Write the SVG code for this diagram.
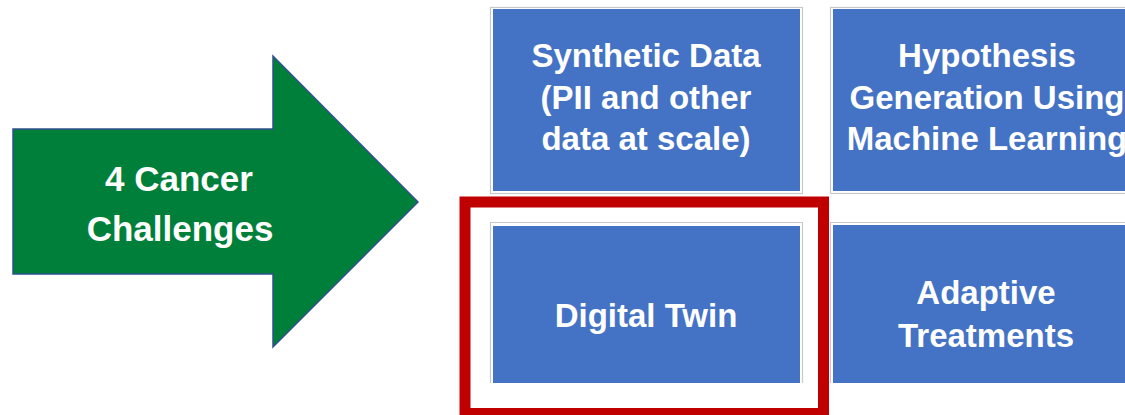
<svg xmlns="http://www.w3.org/2000/svg" width="1125" height="415" viewBox="0 0 1125 415">
<style>
.frame{fill:none;stroke:#C8C8C8;stroke-width:1.2}
.box{fill:#4472C4}
.t{font-family:"Liberation Sans",Arial,sans-serif;font-weight:bold;fill:#FFFFFF;text-anchor:middle;font-size:33px}
.big{font-size:35px}
</style>
<rect width="1125" height="415" fill="#FFFFFF"/>
<g id="arrow">
<path d="M13,129 L273,129 L273,56 L418,202 L273,347 L273,274 L13,274 Z" fill="#007F3A" stroke="#2F528F" stroke-width="1.5"/>
<text class="t big" x="179" y="191">4 Cancer</text>
<text class="t big" x="180" y="241">Challenges</text>
</g>
<g id="box-synthetic">
<rect class="frame" x="490.5" y="7.5" width="312" height="186"/>
<rect class="box" x="493" y="9" width="307" height="182"/>
<text class="t" x="646" y="67">Synthetic Data</text>
<text class="t" x="646" y="109">(PII and other</text>
<text class="t" x="646" y="150">data at scale)</text>
</g>
<g id="box-hypothesis">
<rect class="frame" x="830.5" y="7.5" width="312" height="186"/>
<rect class="box" x="833" y="9" width="308" height="182"/>
<text class="t" x="987" y="67">Hypothesis</text>
<text class="t" x="987" y="109">Generation Using</text>
<text class="t" x="987" y="150">Machine Learning</text>
</g>
<g id="box-digital-twin">
<path class="frame" d="M490.5,383 V222.5 H802.5 V383"/>
<rect class="box" x="493" y="226" width="307" height="157"/>
<text class="t" x="646" y="327">Digital Twin</text>
</g>
<g id="box-adaptive">
<path class="frame" d="M830.5,383 V222.5 H1142.5 V383"/>
<rect class="box" x="833" y="225" width="308" height="158"/>
<text class="t" x="986" y="304">Adaptive</text>
<text class="t" x="986" y="347">Treatments</text>
</g>
<g id="highlight">
<rect x="465" y="202" width="358.5" height="211.5" fill="none" stroke="#C00000" stroke-width="11"/>
</g>
</svg>
